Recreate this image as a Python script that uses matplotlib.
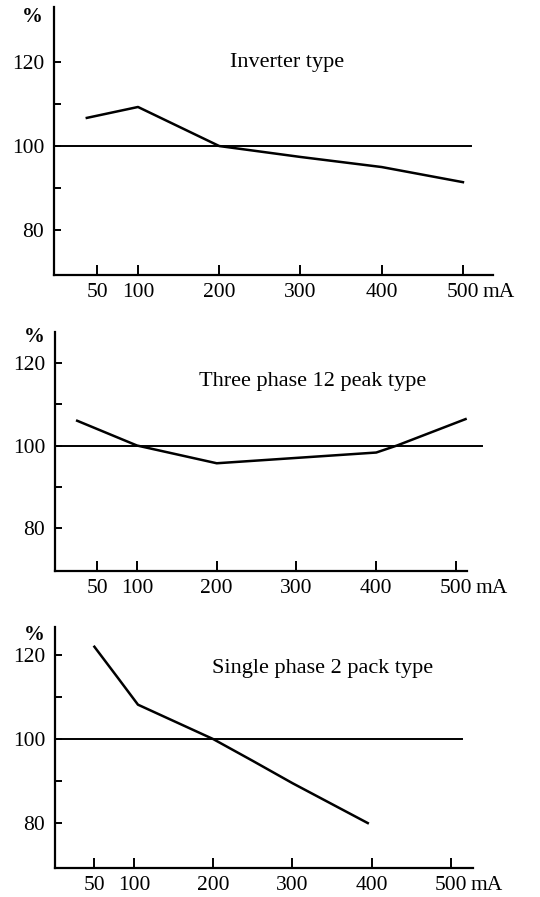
import matplotlib
matplotlib.use('Agg')
import matplotlib.pyplot as plt
from matplotlib.ticker import FixedLocator

plt.rcParams['font.family'] = ['Liberation Serif', 'DejaVu Serif']

# data (% vs mA)
inv_x = [37, 100, 200, 300, 400, 500]
inv_y = [106.7, 109.3, 100.0, 97.4, 95.0, 91.4]

tp_x = [25, 100, 200, 400, 426, 512]
tp_y = [106.0, 100.0, 95.7, 98.3, 100.0, 106.4]

sp_x = [50, 80, 105, 200, 250, 300, 395]
sp_y = [122.0, 114.5, 108.2, 100.0, 94.8, 89.5, 80.0]

xticks = [50, 100, 200, 300, 400, 500]
xticklabels = ['50', '100', '200', '300', '400', '500']
yticks = [80, 100, 120]
yminor = [90, 110]

titles = ['Inverter type', 'Three phase 12 peak type', 'Single phase 2 pack type']

# panel layout in pixels: left, right, top, bottom ; limits
W, H = 540, 897
panels = [
    dict(px=(54, 493, 7, 275), xlim=(-3.4, 537), ylim=(69.3, 133.1), ref_end=510,
         title_xy=(283, 120), pct_y=0.963, x=inv_x, y=inv_y),
    dict(px=(55, 467, 332, 571), xlim=(-2.8, 513.8), ylim=(69.6, 127.5), ref_end=532,
         title_xy=(320, 115.4), pct_y=0.979, x=tp_x, y=tp_y),
    dict(px=(55, 473, 627, 868), xlim=(0.3, 527.8), ylim=(69.3, 126.7), ref_end=514,
         title_xy=(338, 116.9), pct_y=0.967, x=sp_x, y=sp_y),
]

fig = plt.figure(figsize=(W / 100, H / 100), dpi=100)

for p, ttl in zip(panels, titles):
    l, r, t, b = p['px']
    ax = fig.add_axes([l / W, 1 - b / H, (r - l) / W, (b - t) / H])
    ax.set_xlim(*p['xlim'])
    ax.set_ylim(*p['ylim'])
    for s in ['top', 'right']:
        ax.spines[s].set_visible(False)
    for s in ['left', 'bottom']:
        ax.spines[s].set_linewidth(1.6)

    ax.plot([p['xlim'][0], p['ref_end']], [100, 100], color='black', lw=1.4, clip_on=False)
    ax.plot(p['x'], p['y'], color='black', lw=1.8, clip_on=False)

    ax.set_xticks(xticks)
    ax.set_xticklabels(xticklabels)
    ax.set_yticks(yticks)
    ax.yaxis.set_minor_locator(FixedLocator(yminor))
    ax.tick_params(axis='x', direction='in', length=7, width=1.4, pad=6, labelsize=15.5)
    ax.tick_params(axis='y', which='major', direction='in', length=5, width=1.4, pad=7, labelsize=15.5)
    ax.tick_params(axis='y', which='minor', direction='in', length=5, width=1.4)

    ax.annotate('mA', xy=(500, 0), xycoords=('data', 'axes fraction'),
                xytext=(14, -6), textcoords='offset points',
                ha='left', va='top', fontsize=15.5)
    ax.text(-0.05, p['pct_y'], '%', transform=ax.transAxes, ha='center', va='center',
            fontsize=15, fontweight='bold')
    ax.text(p['title_xy'][0], p['title_xy'][1], ttl, ha='center', va='center', fontsize=16)

plt.savefig('out.png', dpi=100)
